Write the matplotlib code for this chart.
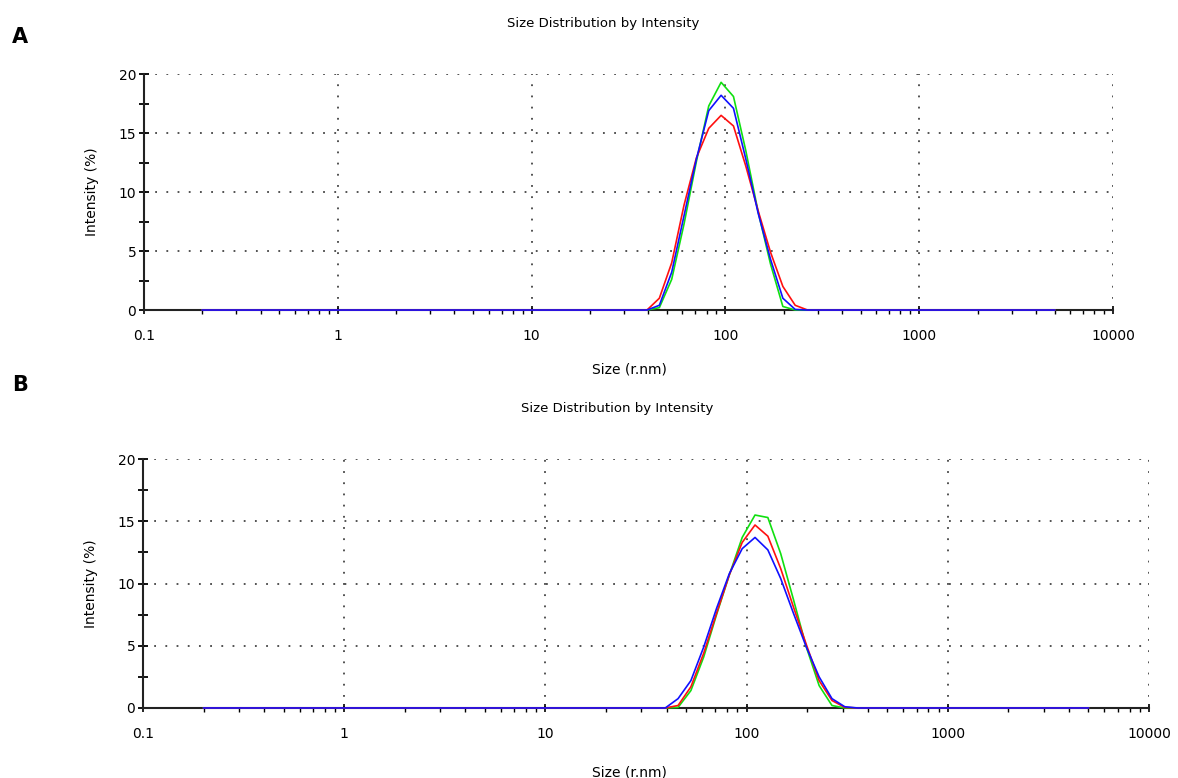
'''
Size distribution by intensity for two samples (panels A and B)
'''
import matplotlib
matplotlib.use('Agg')
from matplotlib import pyplot as plt
from matplotlib.ticker import FixedLocator, FuncFormatter, NullFormatter


# size classes, radius in nm
sizes = [0.2, 0.2316, 0.2683, 0.3107, 0.3598, 0.4166, 0.4825, 0.5587, 0.647, 0.7493,
         0.8677, 1.005, 1.164, 1.348, 1.561, 1.808, 2.093, 2.424, 2.808, 3.251,
         3.765, 4.361, 5.05, 5.848, 6.772, 7.843, 9.083, 10.52, 12.18, 14.11,
         16.34, 18.92, 21.91, 25.37, 29.39, 34.03, 39.41, 45.64, 52.85, 61.21,
         70.89, 82.09, 95.07, 110.1, 127.5, 147.7, 171.0, 198.0, 229.3, 265.6,
         307.6, 356.2, 412.5, 477.7, 553.2, 640.7, 741.9, 859.2, 995.0, 1152,
         1334, 1545, 1789, 2072, 2400, 2779, 3218, 3727, 4316, 5000]

# intensity (%) per size class, 39.41 nm to 356.2 nm; all other classes are zero
peak_a_red = [0, 1.0, 4.0, 8.9, 12.9, 15.4, 16.5, 15.6, 12.2, 8.4, 4.9, 2.0, 0.4, 0, 0, 0]
peak_a_green = [0, 0.2, 2.6, 7.3, 12.6, 17.3, 19.3, 18.1, 13.5, 8.3, 3.9, 0.3, 0, 0, 0, 0]
peak_a_blue = [0, 0.4, 3.2, 8.0, 12.8, 16.9, 18.2, 17.1, 12.8, 8.2, 4.3, 1.0, 0.05, 0, 0, 0]

peak_b_red = [0, 0.2, 1.7, 4.4, 7.6, 10.7, 13.3, 14.7, 13.8, 11.2, 8.1, 5.1, 2.2, 0.6, 0.05, 0]
peak_b_green = [0, 0.05, 1.4, 4.1, 7.5, 10.7, 13.7, 15.5, 15.3, 12.4, 8.7, 4.9, 1.8, 0.2, 0, 0]
peak_b_blue = [0, 0.75, 2.2, 4.9, 8.0, 10.8, 12.8, 13.7, 12.7, 10.4, 7.6, 4.9, 2.5, 0.75, 0.1, 0]

n_before = 36
n_after = len(sizes) - n_before - len(peak_a_red)

x_ticks = [0.1, 1, 10, 100, 1000, 10000]
y_ticks = [0, 5, 10, 15, 20]
y_minor = [2.5, 7.5, 12.5, 17.5]

title = 'Size Distribution by Intensity'
x_label = 'Size (r.nm)'
y_label = 'Intensity (%)'

colors = {'red': '#ff1010', 'green': '#10e010', 'blue': '#1010ff'}

plt.rcParams['font.family'] = ['DejaVu Sans']


def full(peak):
    return [0.0] * n_before + list(peak) + [0.0] * n_after


def draw_panel(ax, series, title_x, xlabel_x, xlabel_pad):
    for name, peak in series:
        ax.plot(sizes, full(peak), color=colors[name], lw=1.2,
                zorder=3, clip_on=False)
    ax.set_xscale('log')
    ax.set_xlim(0.1, 10000)
    ax.set_ylim(0, 20)
    ax.xaxis.set_major_locator(FixedLocator(x_ticks))
    ax.xaxis.set_major_formatter(FuncFormatter(lambda v, p: '{:g}'.format(v)))
    ax.xaxis.set_minor_formatter(NullFormatter())
    ax.yaxis.set_major_locator(FixedLocator(y_ticks))
    ax.yaxis.set_minor_locator(FixedLocator(y_minor))
    ax.grid(True, which='major', color='#444444', lw=1.3,
            linestyle=(0, (1, 5.2)))
    for side in ('top', 'right'):
        ax.spines[side].set_visible(False)
    for side in ('left', 'bottom'):
        ax.spines[side].set_linewidth(1.5)
        ax.spines[side].set_color('#222222')
    ax.tick_params(axis='y', which='both', direction='inout', length=7,
                   width=1.3, labelsize=10, pad=2)
    ax.tick_params(axis='x', which='major', direction='inout', length=6,
                   width=1.2, labelsize=10, pad=11)
    ax.tick_params(axis='x', which='minor', direction='out', length=3,
                   width=1.0)
    ax.set_ylabel(y_label, fontsize=10, labelpad=14)
    ax.set_xlabel(x_label, fontsize=10, labelpad=xlabel_pad)
    ax.xaxis.label.set_x(xlabel_x)
    ax.set_title(title, fontsize=9.5, pad=34, x=title_x)


fig = plt.figure(figsize=(11.78, 7.78), dpi=100)
ax_a = fig.add_axes([0.1222, 0.6015, 0.8226, 0.3033])
ax_b = fig.add_axes([0.1214, 0.0900, 0.8540, 0.3200])

draw_panel(ax_a, [('green', peak_a_green), ('red', peak_a_red), ('blue', peak_a_blue)],
           title_x=0.474, xlabel_x=0.501, xlabel_pad=14)
draw_panel(ax_b, [('green', peak_b_green), ('red', peak_b_red), ('blue', peak_b_blue)],
           title_x=0.471, xlabel_x=0.484, xlabel_pad=17)

fig.text(0.010, 0.952, 'A', fontsize=15, fontweight='heavy', va='center')
fig.text(0.010, 0.505, 'B', fontsize=15, fontweight='heavy', va='center')

fig.savefig('out.png', dpi=100)
